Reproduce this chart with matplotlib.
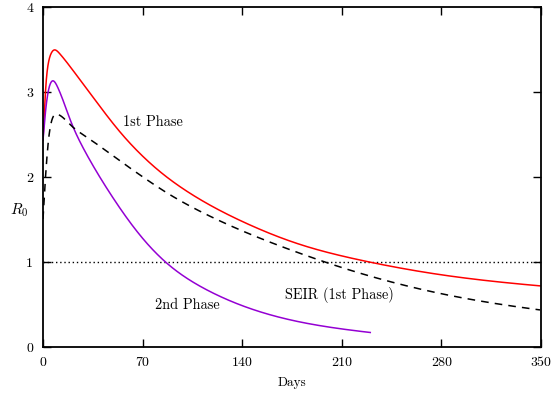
import numpy as np
import matplotlib
matplotlib.use('Agg')
import matplotlib.pyplot as plt

# ###############################################
# values
red_days = [0, 2.6, 4.9, 8.2, 11.9, 23.7, 35.4, 47.1, 58.8, 70.5, 82.2, 91.6, 115, 138.4,
            161.9, 185.3, 208.7, 229.8, 269.7, 316.5, 349.3]
red_r0 = [2.43, 3.22, 3.43, 3.51, 3.45, 3.20, 2.94, 2.68, 2.44, 2.24, 2.06, 1.94, 1.69, 1.49,
          1.32, 1.165, 1.075, 1.00, 0.867, 0.765, 0.718]

purple_days = [0, 2.6, 4.9, 7.0, 11.7, 21.3, 35.1, 46.9, 58.6, 70.3, 85.5, 91.6, 115, 138.4,
               161.9, 185.3, 208.7, 230]
purple_r0 = [2.43, 2.9, 3.10, 3.15, 3.01, 2.58, 2.14, 1.82, 1.53, 1.27, 1.00, 0.91, 0.67,
             0.49, 0.36, 0.27, 0.21, 0.17]

seir_days = [0, 2.6, 4.9, 8.2, 11.9, 21.3, 35.4, 47.1, 58.6, 70.3, 89.3, 115, 138.4, 161.9,
             185.3, 208.7, 229.8, 246, 269.7, 293, 316.5, 349.3]
seir_r0 = [1.5, 2.2, 2.59, 2.75, 2.73, 2.58, 2.42, 2.28, 2.14, 2.005, 1.79, 1.56, 1.38, 1.22,
           1.08, 0.94, 0.83, 0.757, 0.66, 0.57, 0.506, 0.435]

x_ticks = [0, 70, 140, 210, 280, 350]
y_ticks = [0, 1, 2, 3, 4]
threshold = 1
# ###############################################

plt.rcParams['font.family'] = 'serif'
plt.rcParams['font.serif'] = ['cmr10']
plt.rcParams['mathtext.fontset'] = 'cm'
plt.rcParams['axes.formatter.use_mathtext'] = True


def pchip(xs, ys, xx):
    # monotone piecewise cubic through the read points
    xs = np.asarray(xs, float)
    ys = np.asarray(ys, float)
    h = np.diff(xs)
    d = np.diff(ys) / h
    m = np.zeros_like(ys)
    m[0], m[-1] = d[0], d[-1]
    for i in range(1, len(xs) - 1):
        if d[i - 1] * d[i] > 0:
            w1 = 2 * h[i] + h[i - 1]
            w2 = h[i] + 2 * h[i - 1]
            m[i] = (w1 + w2) / (w1 / d[i - 1] + w2 / d[i])
    k = np.clip(np.searchsorted(xs, xx) - 1, 0, len(xs) - 2)
    t = (xx - xs[k]) / h[k]
    h00 = 2 * t**3 - 3 * t**2 + 1
    h10 = t**3 - 2 * t**2 + t
    h01 = -2 * t**3 + 3 * t**2
    h11 = t**3 - t**2
    return h00 * ys[k] + h10 * h[k] * m[k] + h01 * ys[k + 1] + h11 * h[k] * m[k + 1]


def smooth(xs, ys, shift=4.0, sigma=0.12, n=1500):
    # evaluate on a log-spaced grid, then blur a little to take out reading noise
    u = np.linspace(np.log(xs[0] + shift), np.log(xs[-1] + shift), n)
    du = u[1] - u[0]
    xx = np.exp(u) - shift
    xx[0], xx[-1] = xs[0], xs[-1]
    yy = pchip(xs, ys, xx)
    npad = int(4 * sigma / du)
    s0 = (yy[3] - yy[0]) / (3 * du)
    s1 = (yy[-1] - yy[-4]) / (3 * du)
    left = yy[0] + s0 * du * np.arange(-npad, 0)
    right = yy[-1] + s1 * du * np.arange(1, npad + 1)
    padded = np.concatenate([left, yy, right])
    kx = np.arange(-npad, npad + 1) * du
    kern = np.exp(-0.5 * (kx / sigma) ** 2)
    kern /= kern.sum()
    return xx, np.convolve(padded, kern, mode='valid')


fig = plt.figure(figsize=(5.53, 3.94), dpi=100)
ax = fig.add_axes([43 / 553, 47 / 394, 498 / 553, 340 / 394])

ax.axhline(threshold, color='black', lw=1.0, ls=(0, (1, 2)))
x, y = smooth(red_days, red_r0)
ax.plot(x, y, color='#ff0000', lw=1.1)
x, y = smooth(purple_days, purple_r0)
ax.plot(x, y, color='#9400d3', lw=1.1)
x, y = smooth(seir_days, seir_r0)
ax.plot(x, y, color='black', lw=1.1, ls=(0, (5, 4)))

ax.text(77, 2.65, '1st Phase', ha='center', va='center', fontsize=10.3)
ax.text(101.5, 0.49, '2nd Phase', ha='center', va='center', fontsize=10.3)
ax.text(208, 0.61, 'SEIR (1st Phase)', ha='center', va='center', fontsize=10.3)

ax.set_xlim(0, 350)
ax.set_ylim(0, 4)
ax.set_xticks(x_ticks)
ax.set_xticklabels([str(v) for v in x_ticks])
ax.set_yticks(y_ticks)
ax.set_yticklabels([str(v) for v in y_ticks])
ax.tick_params(direction='in', top=True, right=True, length=6, width=1,
               labelsize=10, pad=7)
for s in ax.spines.values():
    s.set_linewidth(1.3)

ax.set_xlabel('Days', fontsize=9.5, labelpad=6)
ax.set_ylabel(r'$R_0$', rotation=0, fontsize=11, va='center')
ax.yaxis.set_label_coords(-0.048, 0.403)

fig.savefig('out.png', dpi=100)
